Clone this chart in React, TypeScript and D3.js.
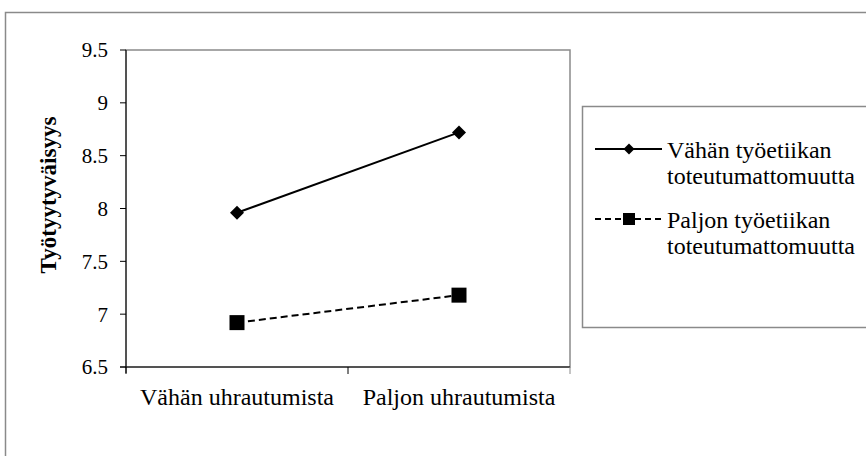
import React from "react";
import * as d3 from "d3";

const categories = ["Vähän uhrautumista", "Paljon uhrautumista"];
const seriesNames = [
  ["Vähän työetiikan", "toteutumattomuutta"],
  ["Paljon työetiikan", "toteutumattomuutta"],
];
const lowSeries = [7.96, 8.72];
const highSeries = [6.92, 7.18];
const yTicks = [6.5, 7, 7.5, 8, 8.5, 9, 9.5];
const yTitle = "Työtyytyväisyys";

const W = 866;
const H = 456;
const plot = { left: 126, right: 570, top: 50, bottom: 367 };
const font = "'Liberation Serif', 'Times New Roman', serif";

export default function App() {
  const x = d3.scaleBand<string>().domain(categories).range([plot.left, plot.right]).padding(0);
  const y = d3.scaleLinear().domain([6.5, 9.5]).range([plot.bottom, plot.top]);
  const line = d3
    .line<number>()
    .x((_, i) => (x(categories[i]) as number) + x.bandwidth() / 2)
    .y((d) => y(d));

  const diamond = (cx: number, cy: number, r: number) =>
    `M${cx},${cy - r}L${cx + r},${cy}L${cx},${cy + r}L${cx - r},${cy}Z`;

  const xTickPos = [plot.left, ...categories.map((c) => (x(c) as number) + x.bandwidth())];

  const legendX = 582;
  const legendY = 106;

  return (
    <svg
      width={W}
      height={H}
      style={{ position: "absolute", left: 0, top: 0, background: "#fff" }}
      fontFamily={font}
    >
      <rect x={0} y={0} width={W} height={H} fill="#fff" />
      {/* outer chart border */}
      <rect x={5.5} y={12.5} width={W + 20} height={H + 20} fill="none" stroke="#8a8a8a" strokeWidth={1.5} />
      {/* plot area border */}
      <rect
        x={plot.left}
        y={plot.top}
        width={plot.right - plot.left}
        height={plot.bottom - plot.top}
        fill="none"
        stroke="#8a8a8a"
        strokeWidth={1.5}
      />
      {/* y axis */}
      <line x1={plot.left} x2={plot.left} y1={plot.top} y2={plot.bottom + 6} stroke="#000" strokeWidth={1} />
      {yTicks.map((t) => (
        <g key={t}>
          <line x1={plot.left - 6} x2={plot.left} y1={y(t)} y2={y(t)} stroke="#000" />
          <text x={plot.left - 18} y={y(t)} dy="0.35em" textAnchor="end" fontSize={21} fontFamily={font}>
            {String(t)}
          </text>
        </g>
      ))}
      {/* x axis */}
      <line x1={plot.left - 6} x2={plot.right} y1={plot.bottom} y2={plot.bottom} stroke="#000" />
      {xTickPos.map((p, i) => (
        <line key={i} x1={p} x2={p} y1={plot.bottom} y2={plot.bottom + 7} stroke={i === 2 ? "#8a8a8a" : "#000"} />
      ))}
      {categories.map((c) => (
        <text
          key={c}
          x={(x(c) as number) + x.bandwidth() / 2}
          y={405}
          textAnchor="middle"
          fontSize={24}
          fontFamily={font}
        >
          {c}
        </text>
      ))}
      {/* y title */}
      <text
        transform={`translate(56,195) rotate(-90)`}
        textAnchor="middle"
        fontSize={23}
        fontWeight="bold"
        fontFamily={font}
      >
        {yTitle}
      </text>
      {/* series */}
      <path d={line(lowSeries) || ""} fill="none" stroke="#000" strokeWidth={2} />
      <path d={line(highSeries) || ""} fill="none" stroke="#000" strokeWidth={2} strokeDasharray="7,4" />
      {lowSeries.map((v, i) => {
        const cx = (x(categories[i]) as number) + x.bandwidth() / 2;
        return <path key={i} d={diamond(cx, y(v), 7)} fill="#000" />;
      })}
      {highSeries.map((v, i) => {
        const cx = (x(categories[i]) as number) + x.bandwidth() / 2;
        return <rect key={i} x={cx - 7.5} y={y(v) - 7.5} width={15} height={15} fill="#000" />;
      })}
      {/* legend */}
      <rect x={legendX + 0.5} y={legendY + 0.5} width={W} height={221} fill="#fff" stroke="#8a8a8a" strokeWidth={1.5} />
      <line x1={595} x2={662} y1={149} y2={149} stroke="#000" strokeWidth={2} />
      <path d={diamond(629, 149, 5.5)} fill="#000" />
      <line x1={595} x2={662} y1={219} y2={219} stroke="#000" strokeWidth={2} strokeDasharray="6,4" />
      <rect x={623} y={213} width={12} height={12} fill="#000" />
      {seriesNames.map((lines, i) => (
        <text key={i} x={667} y={i === 0 ? 158 : 228} fontSize={24} fontFamily={font}>
          {lines.map((l, j) => (
            <tspan key={j} x={667} dy={j === 0 ? 0 : 26} fontFamily={font}>
              {l}
            </tspan>
          ))}
        </text>
      ))}
    </svg>
  );
}
